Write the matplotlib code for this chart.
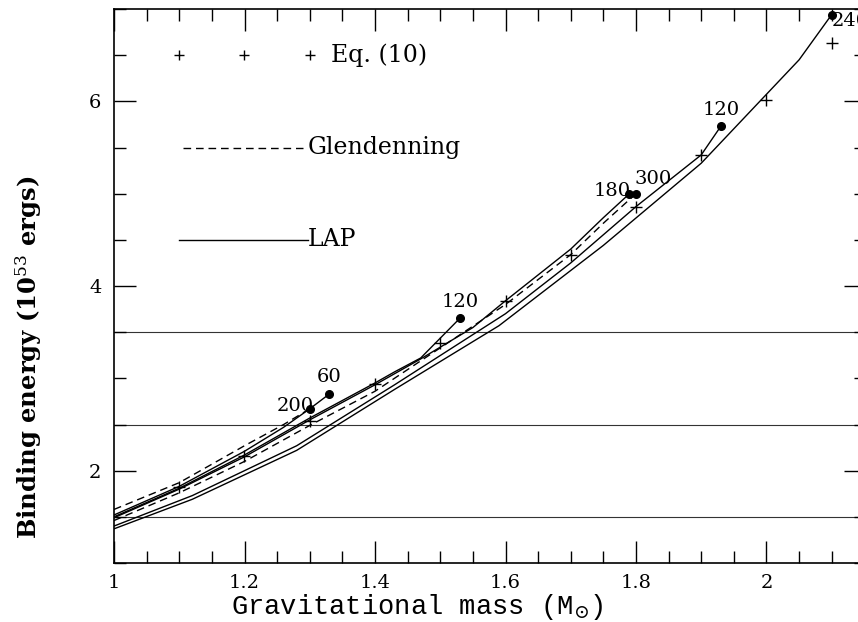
import numpy as np
import matplotlib
matplotlib.use('Agg')
import matplotlib.pyplot as plt
from matplotlib.ticker import MultipleLocator, FormatStrFormatter

plt.rcParams['font.family'] = 'DejaVu Serif'
plt.rcParams['mathtext.fontset'] = 'dejavuserif'

# Eq. (10) points
eq_m = [1.1, 1.2, 1.3, 1.4, 1.5, 1.6, 1.7, 1.8, 1.9, 2.0, 2.1]
eq_be = [1.82, 2.16, 2.54, 2.94, 3.38, 3.84, 4.34, 4.86, 5.42, 6.01, 6.63]

# Glendenning (dashed)
gl200_m = [1.0, 1.1, 1.2, 1.26, 1.30]
gl200_be = [1.58, 1.87, 2.27, 2.50, 2.67]
gl300_m = [1.0, 1.1, 1.2, 1.3, 1.4, 1.5, 1.6, 1.7, 1.75, 1.80]
gl300_be = [1.46, 1.76, 2.10, 2.49, 2.86, 3.33, 3.80, 4.34, 4.68, 5.00]

# LAP (solid)
lap60_m = [1.0, 1.1, 1.2, 1.26, 1.30, 1.33]
lap60_be = [1.52, 1.83, 2.21, 2.47, 2.67, 2.83]
lap120a_m = [1.0, 1.1, 1.2, 1.3, 1.4, 1.43, 1.47, 1.53]
lap120a_be = [1.50, 1.81, 2.17, 2.57, 2.95, 3.07, 3.22, 3.65]
lap180_m = [1.0, 1.1, 1.2, 1.3, 1.4, 1.47, 1.55, 1.6, 1.7, 1.75, 1.79]
lap180_be = [1.49, 1.80, 2.15, 2.55, 2.93, 3.21, 3.55, 3.84, 4.40, 4.74, 5.00]
lap120b_m = [1.0, 1.12, 1.28, 1.43, 1.6, 1.7, 1.8, 1.9, 1.93]
lap120b_be = [1.40, 1.73, 2.27, 2.93, 3.70, 4.25, 4.86, 5.42, 5.73]
lap240_m = [1.0, 1.12, 1.28, 1.43, 1.59, 1.75, 1.9, 2.05, 2.1]
lap240_be = [1.37, 1.69, 2.22, 2.88, 3.57, 4.44, 5.33, 6.45, 6.94]

hlines = [1.5, 2.5, 3.5]

# end points: (mass, energy, label, offset, ha, va)
ends = [(1.30, 2.67, '200', (3, 2), 'right', 'center'),
        (1.33, 2.83, '60', (0, 6), 'center', 'bottom'),
        (1.53, 3.65, '120', (0, 5), 'center', 'bottom'),
        (1.79, 5.00, '180', (1, 2), 'right', 'center'),
        (1.80, 5.00, '300', (-1, 4), 'left', 'bottom'),
        (1.93, 5.73, '120', (0, 5), 'center', 'bottom'),
        (2.10, 6.94, '240', (0, 2), 'left', 'top')]

fig = plt.figure(figsize=(8.58, 6.22), dpi=100)
ax = fig.add_axes([114/858, 59/622, (866-114)/858, (563-9)/622])

lw = 1.0
for y in hlines:
    ax.axhline(y, color='#333333', lw=0.8, zorder=1)

dash = (0, (5.5, 3.5))
ax.plot(gl200_m, gl200_be, color='k', lw=lw, ls=dash)
ax.plot(gl300_m, gl300_be, color='k', lw=lw, ls=dash)
for m, be in [(lap60_m, lap60_be), (lap120a_m, lap120a_be), (lap180_m, lap180_be),
              (lap120b_m, lap120b_be), (lap240_m, lap240_be)]:
    ax.plot(m, be, color='k', lw=lw)

ax.plot(eq_m, eq_be, 'k+', ms=8, mew=1.0, ls='none')

for m, be, lab, off, ha, va in ends:
    ax.plot(m, be, 'ko', ms=5.5, clip_on=False)
    ax.annotate(lab, (m, be), xytext=off, textcoords='offset points',
                ha=ha, va=va, fontsize=14, annotation_clip=False)

# hand-drawn key
ax.plot([1.1, 1.2, 1.3], [6.5, 6.5, 6.5], 'k+', ms=7, mew=1.0, ls='none')
ax.text(1.332, 6.5, 'Eq. (10)', fontsize=17, va='center', ha='left')
ax.plot([1.106, 1.29], [5.5, 5.5], color='k', lw=lw, ls=dash)
ax.text(1.297, 5.5, 'Glendenning', fontsize=17, va='center', ha='left')
ax.plot([1.10, 1.297], [4.5, 4.5], color='k', lw=lw)
ax.text(1.297, 4.5, 'LAP', fontsize=17, va='center', ha='left')

ax.set_xlim(1, 1 + (866-114)/652.5)
ax.set_ylim(1, 7)
ax.xaxis.set_major_locator(MultipleLocator(0.2))
ax.xaxis.set_minor_locator(MultipleLocator(0.05))
ax.yaxis.set_major_locator(MultipleLocator(2))
ax.yaxis.set_minor_locator(MultipleLocator(0.5))
ax.xaxis.set_major_formatter(FormatStrFormatter('%g'))
ax.yaxis.set_major_formatter(FormatStrFormatter('%g'))
ax.tick_params(which='both', direction='in', top=True, right=True, width=1.0,
               labelsize=14)
ax.tick_params(which='major', length=16, pad=9)
ax.tick_params(axis='x', which='major', pad=8)
ax.tick_params(which='minor', length=8.5)
for s in ax.spines.values():
    s.set_linewidth(1.2)

ax.set_xlabel(r'Gravitational mass (M$_{\odot}$)', fontsize=19.5,
              family='Liberation Mono', va='center')
ax.xaxis.set_label_coords(0.403, -0.080)
ax.set_ylabel(r'Binding energy (10$^{53}$ ergs)', fontsize=17.5, fontweight='bold',
              va='center')
ax.yaxis.set_label_coords(-0.114, 0.372)

fig.savefig('out.png', dpi=100)
